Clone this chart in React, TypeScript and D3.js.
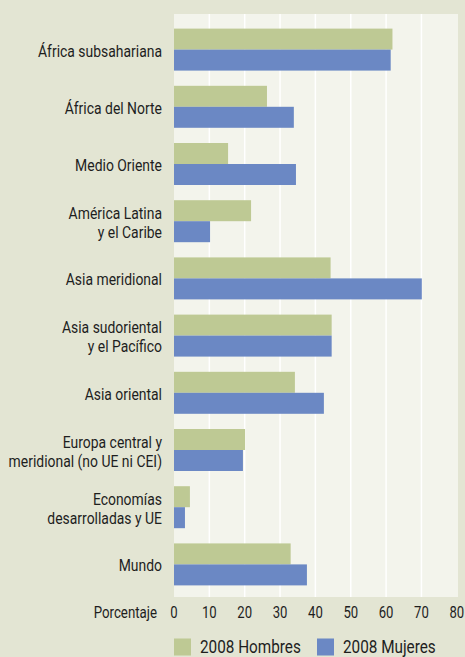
import React from "react";
import * as d3 from "d3";

const categories: string[][] = [
  ["África subsahariana"],
  ["África del Norte"],
  ["Medio Oriente"],
  ["América Latina", "y el Caribe"],
  ["Asia meridional"],
  ["Asia sudoriental", "y el Pacífico"],
  ["Asia oriental"],
  ["Europa central y", "meridional (no UE ni CEI)"],
  ["Economías", "desarrolladas y UE"],
  ["Mundo"],
];
const hombres = [61.8, 26.3, 15.3, 21.8, 44.3, 44.6, 34.2, 20.1, 4.5, 33.0];
const mujeres = [61.3, 33.9, 34.5, 10.2, 70.1, 44.6, 42.4, 19.5, 3.1, 37.6];
const ticks = [0, 10, 20, 30, 40, 50, 60, 70, 80];
const seriesNames = ["2008 Hombres", "2008 Mujeres"];

const W = 465;
const H = 657;
const FONT = "Roboto, 'Noto Sans', sans-serif";
const GREEN = "#bec994";
const BLUE = "#6b88c4";
const INK = "#1e1e1e";

function CText(props: {
  x: number;
  y: number;
  s: number;
  size: number;
  anchor?: "start" | "middle" | "end";
  children: React.ReactNode;
}) {
  return (
    <text
      transform={`translate(${props.x},${props.y}) scale(${props.s},1)`}
      textAnchor={props.anchor || "start"}
      fontSize={props.size}
      fill={INK}
    >
      {props.children}
    </text>
  );
}

export default function App() {
  const plotLeft = 174;
  const plotRight = 458;
  const plotTop = 14;
  const plotBottom = 597;
  const x = d3.scaleLinear().domain([0, 80]).range([174, 456.8]);
  const keys = categories.map((_, i) => String(i));
  const y = d3
    .scaleBand<string>()
    .domain(keys)
    .range([21, 593])
    .paddingInner(0.266)
    .paddingOuter(0.133);
  const bw = y.bandwidth();
  const half = bw / 2;

  return (
    <svg
      width={W}
      height={H}
      style={{ position: "absolute", left: 0, top: 0, display: "block" }}
      fontFamily={FONT}
    >
      <rect x={0} y={0} width={W} height={H} fill="#e3e5d3" />
      <rect x={plotLeft} y={plotTop} width={plotRight - plotLeft} height={plotBottom - plotTop} fill="#f3f4ec" />
      {ticks.slice(1, -1).map((t) => (
        <line key={t} x1={x(t)} x2={x(t)} y1={plotTop} y2={plotBottom} stroke="#ffffff" strokeWidth={1.5} />
      ))}
      {keys.map((k, i) => {
        const y0 = y(k)!;
        const cy = y0 + half;
        const lines = categories[i];
        return (
          <g key={k}>
            <rect x={x(0)} y={y0} width={x(hombres[i]) - x(0)} height={half} fill={GREEN} />
            <rect x={x(0)} y={y0 + half} width={x(mujeres[i]) - x(0)} height={half} fill={BLUE} />
            {lines.map((ln, j) => (
              <CText
                key={j}
                x={162}
                y={cy + 7 + (j - (lines.length - 1) / 2) * 19}
                s={0.82}
                size={17}
                anchor="end"
              >
                {ln}
              </CText>
            ))}
          </g>
        );
      })}
      <CText x={157} y={618} s={0.83} size={16} anchor="end">
        Porcentaje
      </CText>
      {ticks.map((t) => (
        <CText key={t} x={x(t)} y={618} s={0.82} size={16} anchor="middle">
          {t}
        </CText>
      ))}
      <rect x={174} y={638.5} width={17} height={17} fill={GREEN} />
      <CText x={200} y={652.5} s={0.85} size={18}>
        {seriesNames[0]}
      </CText>
      <rect x={317} y={638.5} width={17} height={17} fill={BLUE} />
      <CText x={343} y={652.5} s={0.85} size={18}>
        {seriesNames[1]}
      </CText>
    </svg>
  );
}
